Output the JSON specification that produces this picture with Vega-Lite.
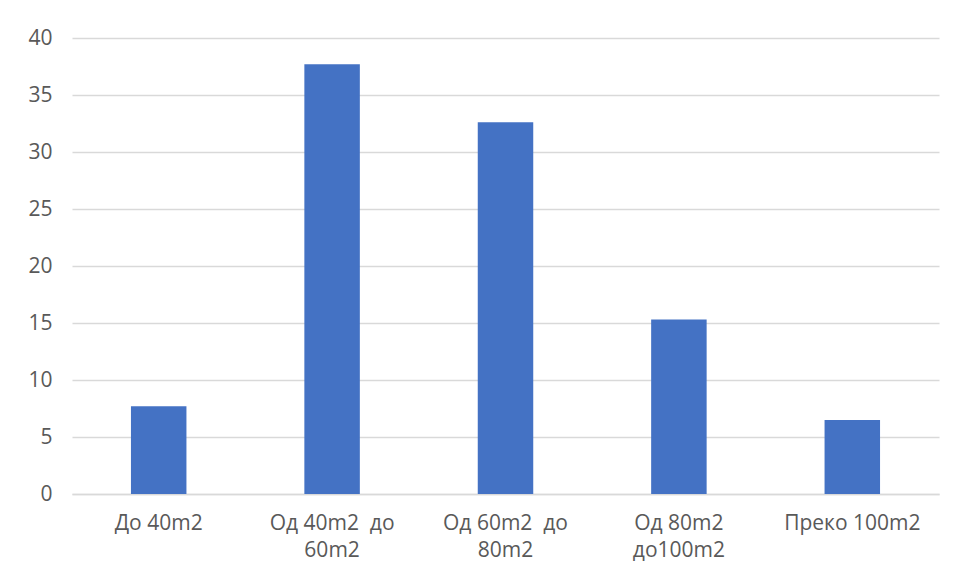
{
  "$schema": "https://vega.github.io/schema/vega-lite/v6.json",
  "width": 867,
  "height": 456,
  "autosize": {"type": "none"},
  "padding": {"left": 72, "top": 38, "right": 15, "bottom": 86},
  "background": "white",
  "config": {
    "view": {"stroke": null},
    "font": "Open Sans"
  },
  "data": {
    "values": [
      {"category": "До 40m2", "value": 7.7},
      {"category": "Од 40m2\u00a0 до\n60m2", "value": 37.7},
      {"category": "Од 60m2\u00a0 до\n80m2", "value": 32.6},
      {"category": "Од 80m2\nдо100m2", "value": 15.3},
      {"category": "Преко 100m2", "value": 6.5}
    ]
  },
  "mark": {"type": "bar", "color": "#4472C4"},
  "encoding": {
    "x": {
      "field": "category",
      "type": "nominal",
      "sort": null,
      "scale": {"paddingInner": 0.68, "paddingOuter": 0.34},
      "axis": {
        "title": null,
        "labelAngle": 0,
        "labelExpr": "split(datum.value, '\\n')",
        "labelFontSize": 21,
        "labelColor": "#595959",
        "labelLineHeight": 27,
        "labelPadding": 18,
        "ticks": false,
        "domainColor": "#d9d9d9",
        "domainWidth": 1.5
      }
    },
    "y": {
      "field": "value",
      "type": "quantitative",
      "scale": {"domain": [0, 40]},
      "axis": {
        "title": null,
        "values": [0, 5, 10, 15, 20, 25, 30, 35, 40],
        "labelFontSize": 21,
        "labelColor": "#595959",
        "labelPadding": 20,
        "ticks": false,
        "domain": false,
        "gridColor": "#d9d9d9",
        "gridWidth": 1.5
      }
    }
  }
}
